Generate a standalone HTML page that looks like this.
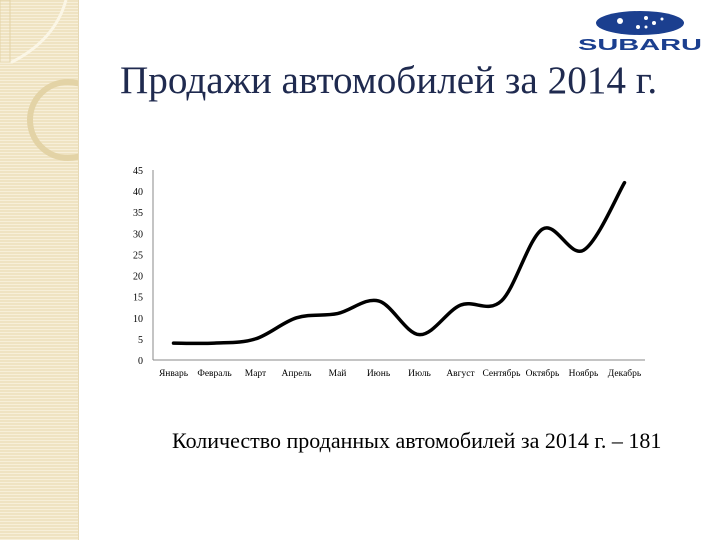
<!DOCTYPE html>
<html><head><meta charset="utf-8"><style>
body{margin:0;width:720px;height:540px;background:#fff;position:relative;overflow:hidden;font-family:"Liberation Serif",serif}
#side{position:absolute;left:0;top:0;width:78px;height:540px;background:repeating-linear-gradient(#efe3c2 0 2px,#f7efd9 2px 3px);border-right:1px solid #e6d9b5}
</style></head><body>
<div id="side">
<svg width="78" height="540"><path d="M0 62 L12 62 Q55 40 66 0" stroke="#fbf6e6" stroke-width="3" fill="none"/><circle cx="68" cy="120" r="38" stroke="#e3d3a6" stroke-width="6" fill="none"/><rect x="0" y="0" width="10" height="62" fill="none" stroke="#e3d3a6"/></svg>
</div>
<svg style="position:absolute;left:574px;top:6px" width="135" height="48">
<ellipse cx="66" cy="17" rx="44" ry="12" fill="#1b3f8f"/><g fill="#fff"><circle cx="46" cy="15" r="3"/><circle cx="72" cy="12" r="2"/><circle cx="80" cy="17" r="2"/><circle cx="64" cy="21" r="2"/><circle cx="88" cy="13" r="1.5"/><circle cx="72" cy="21" r="1.5"/></g>
<text x="66" y="44" text-anchor="middle" font-family="Liberation Sans,sans-serif" font-weight="bold" font-size="16" fill="#1b3f8f" textLength="124" lengthAdjust="spacingAndGlyphs">SUBARU</text></svg>
<div style="position:absolute;left:120px;top:58px;font-size:39.2px;color:#1f2a4f;white-space:nowrap">Продажи автомобилей за 2014 г.</div>
<svg id="chart" width="720" height="540" style="position:absolute;left:0;top:0"></svg>
<div style="position:absolute;left:172px;top:428px;font-size:22px;color:#000;white-space:nowrap">Количество проданных автомобилей за 2014 г. – 181</div>
<script>
const categories=["Январь","Февраль","Март","Апрель","Май","Июнь","Июль","Август","Сентябрь","Октябрь","Ноябрь","Декабрь"];
const sales=[4,4,5,10,11,14,6,13,14,31,26,42];
const yTicks=[0,5,10,15,20,25,30,35,40,45];
const NS="http://www.w3.org/2000/svg",svg=document.getElementById('chart');
const x0=153,x1=645,y0=360,y1=170;
const bw=(x1-x0)/categories.length;
const X=i=>x0+bw*(i+0.5), Y=v=>y0-(v/45)*(y0-y1);
function mk(t,a){const e=document.createElementNS(NS,t);for(const k in a)e.setAttribute(k,a[k]);svg.appendChild(e);return e;}
const ya=mk('line',{x1:x0,x2:x0,y1:y1,y2:y0,stroke:'#888'});


const xa=mk('line',{x1:x0,x2:x1,y1:y0,y2:y0,stroke:'#888'});


yTicks.forEach(v=>{const t=mk('text',{x:143,y:Y(v)+4,'text-anchor':'end','font-size':10,fill:'#000'});t.textContent=v;

});
categories.forEach((c,i)=>{const t=mk('text',{x:X(i),y:376,'text-anchor':'middle','font-size':9.5,fill:'#000'});t.textContent=c;

});
const P=sales.map((v,i)=>[X(i),Y(v)]);
let d='M'+P[0][0]+' '+P[0][1];
for(let i=0;i<P.length-1;i++){const p0=P[Math.max(0,i-1)],p1=P[i],p2=P[i+1],p3=P[Math.min(P.length-1,i+2)];
const c1=[p1[0]+(p2[0]-p0[0])/6,p1[1]+(p2[1]-p0[1])/6],c2=[p2[0]-(p3[0]-p1[0])/6,p2[1]-(p3[1]-p1[1])/6];
d+=` C${c1[0]} ${c1[1]} ${c2[0]} ${c2[1]} ${p2[0]} ${p2[1]}`;}
const line=mk('path',{d:d,fill:'none',stroke:'#000','stroke-width':3.5,'stroke-linecap':'round'});


</script>
</body></html>
